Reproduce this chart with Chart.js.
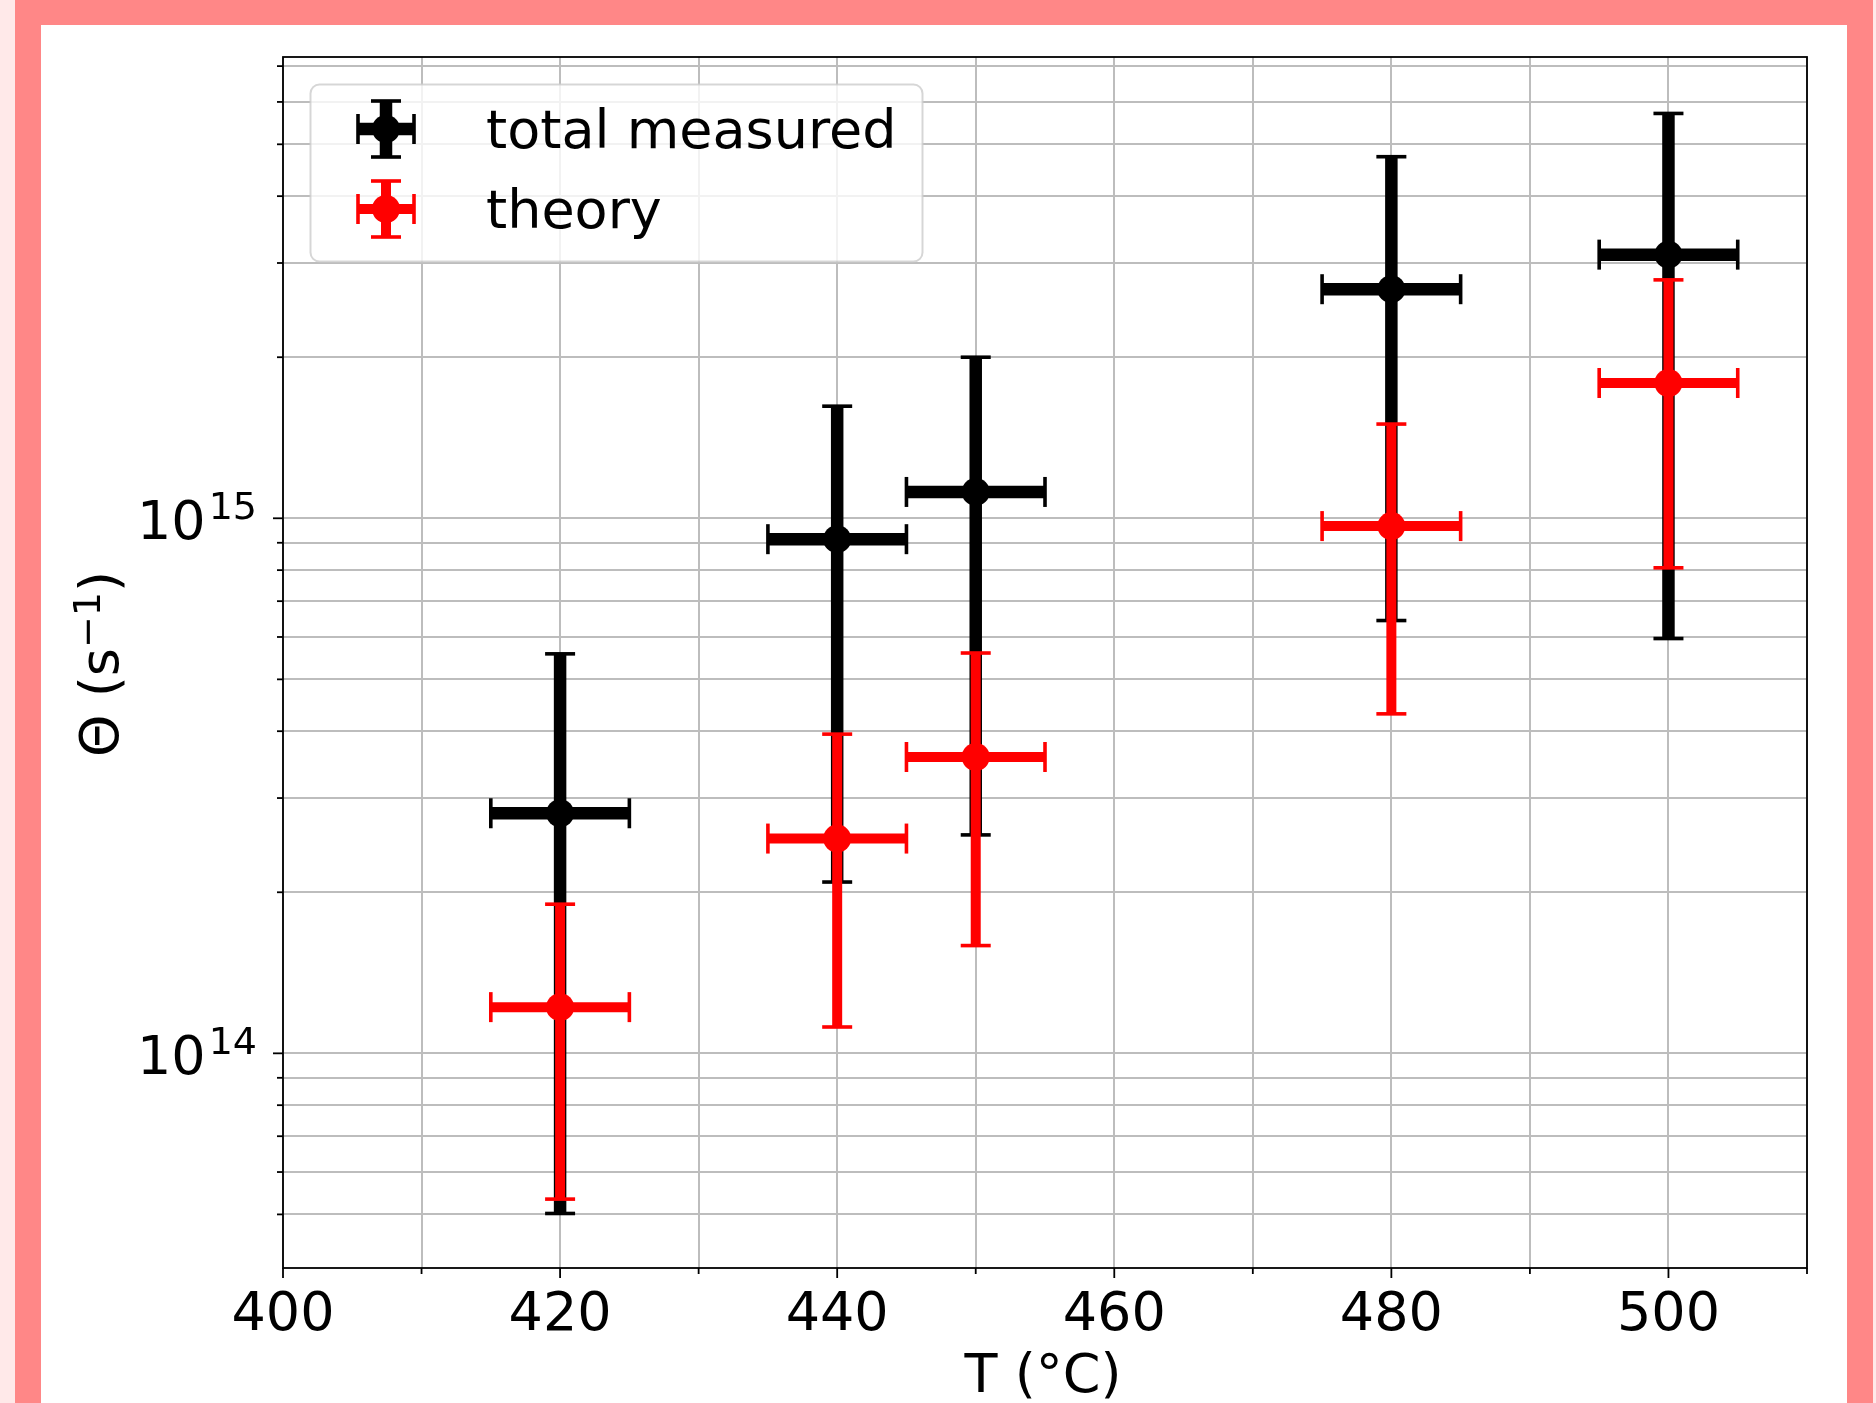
<!DOCTYPE html>
<html>
<head>
<meta charset="utf-8">
<script src="https://cdn.jsdelivr.net/npm/chart.js@4.4.1/dist/chart.umd.min.js"></script>
<style>
html,body{margin:0;padding:0;width:1876px;height:1403px;overflow:hidden;background:#ffe9e9;}
#frame{position:absolute;left:15px;top:0;width:1806px;height:1500px;border-left:26px solid #ff8787;border-right:26px solid #ff8787;border-top:25px solid #ff8787;background:#fff;}
#c{position:absolute;left:0;top:0;z-index:1;}
</style>
</head>
<body>
<div id="frame"></div>
<canvas id="c" width="1876" height="1403"></canvas>
<script>
// ---- data ----
const temperatures   = [420, 440, 450, 480, 500];
const temperatureErr = [5, 5, 5, 5, 5];
const measuredValues = [2.81e14, 9.14e14, 1.12e15, 2.68e15, 3.11e15];
const measuredLower  = [5.02e13, 2.09e14, 2.56e14, 6.44e14, 5.96e14];
const measuredUpper  = [5.58e14, 1.62e15, 2.00e15, 4.74e15, 5.71e15];
const theoryValues   = [1.22e14, 2.52e14, 3.58e14, 9.67e14, 1.79e15];
const theoryLower    = [5.34e13, 1.12e14, 1.59e14, 4.31e14, 8.08e14];
const theoryUpper    = [1.90e14, 3.95e14, 5.60e14, 1.50e15, 2.79e15];
const seriesNames    = ['total measured', 'theory'];
const xTickValues    = [400, 410, 420, 430, 440, 450, 460, 470, 480, 490, 500, 510];
const xTickLabels    = ['400', '', '420', '', '440', '', '460', '', '480', '', '500', ''];
const yTickValues    = [5e13, 6e13, 7e13, 8e13, 9e13, 1e14, 2e14, 3e14, 4e14, 5e14, 6e14, 7e14, 8e14, 9e14, 1e15, 2e15, 3e15, 4e15, 5e15, 6e15, 7e15];
const yMajorValues   = [1e14, 1e15];
const yMajorExponents= ['14', '15'];
const xMajorValues   = [400, 420, 440, 460, 480, 500];
const xTitle = 'T (°C)';
const FONT = "'DejaVu Sans'";

function seg(ctx, a, b, c, d) { ctx.beginPath(); ctx.moveTo(a, b); ctx.lineTo(c, d); ctx.stroke(); }

function drawErrorGlyph(ctx, px, py, x0, x1, y0, y1, color, w) {
  ctx.strokeStyle = color;
  ctx.lineCap = 'butt';
  ctx.lineWidth = w;
  seg(ctx, px, y0, px, y1);
  seg(ctx, x0, py, x1, py);
  ctx.lineWidth = 3.6;
  const cap = 15;
  seg(ctx, px - cap, y0, px + cap, y0);
  seg(ctx, px - cap, y1, px + cap, y1);
  seg(ctx, x0, py - cap, x0, py + cap);
  seg(ctx, x1, py - cap, x1, py + cap);
}

const errorBars = {
  id: 'errorBars',
  beforeDatasetDraw(chart, args) {
    const ds = chart.data.datasets[args.index];
    const xs = chart.scales.x, ys = chart.scales.y, ctx = chart.ctx;
    ctx.save();
    ds.data.forEach((p, i) => {
      const px = xs.getPixelForValue(p.x), py = ys.getPixelForValue(p.y);
      const x0 = xs.getPixelForValue(p.x - ds.xErr[i]), x1 = xs.getPixelForValue(p.x + ds.xErr[i]);
      const y0 = ys.getPixelForValue(ds.yLow[i]), y1 = ys.getPixelForValue(ds.yHigh[i]);
      drawErrorGlyph(ctx, px, py, x0, x1, y0, y1, ds.errColor, ds.errWidth);
    });
    ctx.restore();
  }
};

const decorations = {
  id: 'decorations',
  afterDraw(chart) {
    const ctx = chart.ctx, a = chart.chartArea, xs = chart.scales.x, ys = chart.scales.y;
    ctx.save();
    // frame
    ctx.strokeStyle = '#000'; ctx.lineWidth = 1.8;
    ctx.strokeRect(a.left, a.top, a.right - a.left, a.bottom - a.top);
    // x ticks
    xTickValues.forEach(v => {
      const x = xs.getPixelForValue(v);
      const len = xMajorValues.includes(v) ? 10 : 6;
      seg(ctx, x, a.bottom, x, a.bottom + len);
    });
    // y ticks
    yTickValues.forEach(v => {
      const y = ys.getPixelForValue(v);
      const len = yMajorValues.includes(v) ? 10 : 6;
      seg(ctx, a.left, y, a.left - len, y);
    });
    // y tick labels (10^n)
    ctx.fillStyle = '#000';
    ctx.textBaseline = 'alphabetic';
    yMajorValues.forEach((v, i) => {
      const y = ys.getPixelForValue(v);
      ctx.font = '38px ' + FONT;
      const ws = ctx.measureText(yMajorExponents[i]).width;
      ctx.font = '54px ' + FONT;
      const wb = ctx.measureText('10').width;
      const right = a.left - 26;
      ctx.textAlign = 'left';
      ctx.fillText('10', right - ws - 3 - wb, y + 21);
      ctx.font = '38px ' + FONT;
      ctx.fillText(yMajorExponents[i], right - ws, y + 0.5);
    });
    // x title
    ctx.font = '54px ' + FONT;
    ctx.textAlign = 'center';
    ctx.fillText(xTitle, (a.left + a.right) / 2 - 2, 1392);
    // y title, rotated: Θ (s^{-1})
    ctx.save();
    ctx.translate(118, 664);
    ctx.rotate(-Math.PI / 2);
    ctx.textAlign = 'left';
    const parts = [['Θ (s', 54, 0], ['−1', 38, 18], [')', 54, 0]];
    let total = 0;
    parts.forEach(p => { ctx.font = p[1] + 'px ' + FONT; total += ctx.measureText(p[0]).width; });
    let cx = -total / 2;
    parts.forEach(p => { ctx.font = p[1] + 'px ' + FONT; ctx.fillText(p[0], cx, -p[2]); cx += ctx.measureText(p[0]).width; });
    ctx.restore();
    // legend
    const bx = 310.5, by = 84.5, bw = 612, bh = 177, r = 9;
    ctx.beginPath();
    ctx.moveTo(bx + r, by);
    ctx.arcTo(bx + bw, by, bx + bw, by + bh, r);
    ctx.arcTo(bx + bw, by + bh, bx, by + bh, r);
    ctx.arcTo(bx, by + bh, bx, by, r);
    ctx.arcTo(bx, by, bx + bw, by, r);
    ctx.closePath();
    ctx.fillStyle = 'rgba(255,255,255,0.8)';
    ctx.fill();
    ctx.strokeStyle = 'rgba(204,204,204,0.8)';
    ctx.lineWidth = 2;
    ctx.stroke();
    chart.data.datasets.forEach((ds, i) => {
      const cy = 129 + i * 80, cxI = 386;
      drawErrorGlyph(ctx, cxI, cy, cxI - 28, cxI + 28, cy + 28, cy - 28, ds.errColor, ds.errWidth);
      ctx.fillStyle = ds.errColor;
      ctx.beginPath(); ctx.arc(cxI, cy, ds.pointRadius, 0, Math.PI * 2); ctx.fill();
      ctx.fillStyle = '#000';
      ctx.font = '54px ' + FONT;
      ctx.textAlign = 'left';
      ctx.textBaseline = 'alphabetic';
      ctx.fillText(ds.label, 486, cy + 19);
    });
    ctx.restore();
  }
};

const gridStyle = { color: '#bdbdbd', lineWidth: 2, drawTicks: false };

new Chart(document.getElementById('c').getContext('2d'), {
  type: 'scatter',
  data: {
    datasets: [
      {
        label: seriesNames[0],
        data: temperatures.map((t, i) => ({ x: t, y: measuredValues[i] })),
        backgroundColor: '#000000', borderColor: '#000000', borderWidth: 0,
        pointRadius: 14, pointHoverRadius: 14, order: 1,
        xErr: temperatureErr, yLow: measuredLower, yHigh: measuredUpper,
        errColor: '#000000', errWidth: 12.5
      },
      {
        label: seriesNames[1],
        data: temperatures.map((t, i) => ({ x: t, y: theoryValues[i] })),
        backgroundColor: '#ff0000', borderColor: '#ff0000', borderWidth: 0,
        pointRadius: 14, pointHoverRadius: 14, order: 0,
        xErr: temperatureErr, yLow: theoryLower, yHigh: theoryUpper,
        errColor: '#ff0000', errWidth: 10
      }
    ]
  },
  options: {
    responsive: false, animation: false, devicePixelRatio: 1,
    layout: { padding: { top: 57, right: 69, left: 0, bottom: 0 } },
    plugins: { legend: { display: false }, tooltip: { enabled: false } },
    scales: {
      x: {
        type: 'linear', min: 400, max: 510, offset: false,
        afterBuildTicks: s => { s.ticks = xTickValues.map(v => ({ value: v })); },
        afterFit: s => { s.height = 135; },
        grid: gridStyle, border: { display: false },
        ticks: {
          padding: 16, color: '#000', autoSkip: false, maxRotation: 0, minRotation: 0,
          font: { family: 'DejaVu Sans', size: 54 },
          callback: (v, i) => xTickLabels[i]
        }
      },
      y: {
        type: 'logarithmic', min: 3.97e13, max: 7.28e15,
        afterBuildTicks: s => { s.ticks = yTickValues.map(v => ({ value: v })); },
        afterFit: s => { s.width = 283; },
        grid: gridStyle, border: { display: false },
        ticks: { callback: () => '', autoSkip: false }
      }
    }
  },
  plugins: [errorBars, decorations]
});
</script>
</body>
</html>
